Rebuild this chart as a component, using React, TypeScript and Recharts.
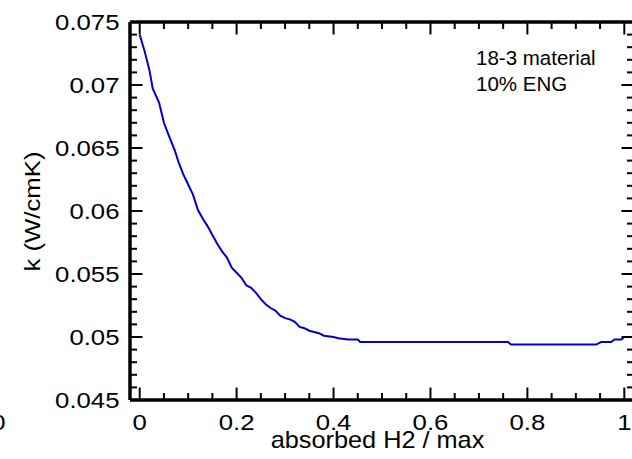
import React from "react";
import { LineChart, Line, XAxis, YAxis, ReferenceLine } from "recharts";

// absorbed H2 / max
const absorbed: number[] = [
  0, 0.01, 0.02, 0.027, 0.04, 0.05, 0.06, 0.0725, 0.08, 0.09, 0.1, 0.11, 0.12, 0.13, 0.14,
  0.15, 0.16, 0.17, 0.18, 0.19, 0.2, 0.21, 0.22, 0.23, 0.24, 0.25, 0.26, 0.27, 0.28, 0.29,
  0.3, 0.31, 0.32, 0.33, 0.34, 0.35, 0.36, 0.37, 0.38, 0.4, 0.41, 0.43, 0.45, 0.455, 0.76,
  0.766, 0.942, 0.952, 0.973, 0.98, 0.994, 1.0,
];
// k (W/cmK)
const kValues: number[] = [
  0.074, 0.0727, 0.0712, 0.0697, 0.0686, 0.067, 0.066, 0.0648, 0.0639, 0.0629, 0.0621, 0.0613,
  0.0601, 0.0594, 0.0588, 0.0581, 0.0574, 0.0568, 0.0563, 0.0555, 0.0551, 0.0547, 0.0541,
  0.0539, 0.0535, 0.053, 0.0526, 0.0523, 0.0521, 0.0517, 0.0515, 0.0514, 0.0512, 0.0508,
  0.0507, 0.0505, 0.0504, 0.0503, 0.0501, 0.05, 0.0499, 0.0498, 0.0498, 0.0496, 0.0496,
  0.0494, 0.0494, 0.0496, 0.0496, 0.0498, 0.0498, 0.05,
];

const xTicks: number[] = [0, 0.2, 0.4, 0.6, 0.8, 1];
const xMinorTicks: number[] = [
  0.05, 0.1, 0.15, 0.25, 0.3, 0.35, 0.45, 0.5, 0.55, 0.65, 0.7, 0.75, 0.85, 0.9, 0.95,
];
const yTicks: number[] = [0.045, 0.05, 0.055, 0.06, 0.065, 0.07, 0.075];
const yMinorTicks: number[] = [
  0.046, 0.047, 0.048, 0.049, 0.051, 0.052, 0.053, 0.054, 0.056, 0.057, 0.058, 0.059,
  0.061, 0.062, 0.063, 0.064, 0.066, 0.067, 0.068, 0.069, 0.071, 0.072, 0.073, 0.074,
];
const xTickLabels: string[] = ["0", "0.2", "0.4", "0.6", "0.8", "1"];
const yTickLabels: string[] = ["0.045", "0.05", "0.055", "0.06", "0.065", "0.07", "0.075"];

const xDomain: [number, number] = [-0.02, 1.02];
const yDomain: [number, number] = [0.045, 0.075];

const data = absorbed.map((x, i) => ({ x, k: kValues[i] }));

const W = 632;
const H = 459;
const M = { top: 22, right: -2, bottom: 0, left: 0 };
const Y_AXIS_W = 130;
const X_AXIS_H = 59;
const plotW = W - Y_AXIS_W - M.left - M.right;
const plotH = H - X_AXIS_H - M.top - M.bottom;
const pxX = plotW / (xDomain[1] - xDomain[0]);
const pxY = plotH / (yDomain[1] - yDomain[0]);

const MAJOR = 12.5;
const MINOR = 7;
const FONT = '"Liberation Sans", Arial, Helvetica, sans-serif';
const SX = 1.12;

const XTick = (props: any) => {
  const { x, y, payload } = props;
  const idx = xTicks.findIndex((t) => Math.abs(t - payload.value) < 1e-9);
  return (
    <text
      transform={`translate(${x},${y + 29.5}) scale(${SX},1)`}
      textAnchor="middle"
      fontSize={23}
      fontFamily={FONT}
      fill="#000"
    >
      {xTickLabels[idx]}
    </text>
  );
};

const YTick = (props: any) => {
  const { x, y, payload } = props;
  const idx = yTicks.findIndex((t) => Math.abs(t - payload.value) < 1e-9);
  return (
    <text
      transform={`translate(${x - 10.5},${y + 8}) scale(${SX},1)`}
      textAnchor="end"
      fontSize={23}
      fontFamily={FONT}
      fill="#000"
    >
      {yTickLabels[idx]}
    </text>
  );
};

export default function App() {
  const tickLines: React.ReactNode[] = [];
  const xLen = (px: number) => px / pxX;
  const yLen = (px: number) => px / pxY;
  const addX = (t: number, len: number, key: string) => {
    tickLines.push(
      <ReferenceLine
        key={`xb${key}`}
        segment={[{ x: t, y: yDomain[0] }, { x: t, y: yDomain[0] + yLen(len) }]}
        stroke="#000"
        strokeWidth={2}
      />
    );
    tickLines.push(
      <ReferenceLine
        key={`xt${key}`}
        segment={[{ x: t, y: yDomain[1] }, { x: t, y: yDomain[1] - yLen(len) }]}
        stroke="#000"
        strokeWidth={2}
      />
    );
  };
  const addY = (t: number, len: number, key: string) => {
    tickLines.push(
      <ReferenceLine
        key={`yl${key}`}
        segment={[{ x: xDomain[0], y: t }, { x: xDomain[0] + xLen(len), y: t }]}
        stroke="#000"
        strokeWidth={2}
      />
    );
    tickLines.push(
      <ReferenceLine
        key={`yr${key}`}
        segment={[{ x: xDomain[1], y: t }, { x: xDomain[1] - xLen(len), y: t }]}
        stroke="#000"
        strokeWidth={2}
      />
    );
  };
  xTicks.forEach((t, i) => addX(t, MAJOR, `M${i}`));
  xMinorTicks.forEach((t, i) => addX(t, MINOR, `m${i}`));
  yTicks.forEach((t, i) => addY(t, MAJOR, `M${i}`));
  yMinorTicks.forEach((t, i) => addY(t, MINOR, `m${i}`));

  return (
    <div style={{ position: "absolute", left: 0, top: 0, width: W, height: H, background: "#fff" }}>
      <LineChart width={W} height={H} data={data} margin={M}>
        <XAxis
          dataKey="x"
          type="number"
          domain={xDomain}
          ticks={xTicks}
          allowDataOverflow
          height={X_AXIS_H}
          tickSize={0}
          tickMargin={0}
          tickLine={false}
          axisLine={{ stroke: "#000", strokeWidth: 3.5 }}
          tick={<XTick />}
          interval={0}
        />
        <YAxis
          type="number"
          domain={yDomain}
          ticks={yTicks}
          allowDataOverflow
          width={Y_AXIS_W}
          tickSize={0}
          tickMargin={0}
          tickLine={false}
          axisLine={{ stroke: "#000", strokeWidth: 3.5 }}
          tick={<YTick />}
          interval={0}
        />
        <ReferenceLine y={yDomain[1]} stroke="#000" strokeWidth={3.5} />
        <ReferenceLine x={xDomain[1]} stroke="#000" strokeWidth={3.5} />
        {tickLines}
        <Line
          type="linear"
          dataKey="k"
          stroke="#0000cc"
          strokeWidth={2}
          dot={false}
          isAnimationActive={false}
        />
      </LineChart>
      <svg
        width={W}
        height={H}
        style={{ position: "absolute", left: 0, top: 0, pointerEvents: "none" }}
      >
        <text
          transform={`translate(40,211.5) rotate(-90) scale(${SX},1)`}
          textAnchor="middle"
          fontSize={23}
          fontFamily={FONT}
          fill="#000"
        >
          k (W/cmK)
        </text>
        <text
          transform={`translate(377.5,448) scale(1.1,1)`}
          textAnchor="middle"
          fontSize={23}
          fontFamily={FONT}
          fill="#000"
        >
          absorbed H2 / max
        </text>
        <text
          transform={`translate(-1.5,429.5) scale(${SX},1)`}
          textAnchor="middle"
          fontSize={23}
          fontFamily={FONT}
          fill="#000"
        >
          0
        </text>
        <text x={476} y={65} fontSize={20.5} fontFamily={FONT} fill="#000">
          18-3 material
        </text>
        <text x={476} y={91} fontSize={20.5} fontFamily={FONT} fill="#000">
          10% ENG
        </text>
      </svg>
    </div>
  );
}
